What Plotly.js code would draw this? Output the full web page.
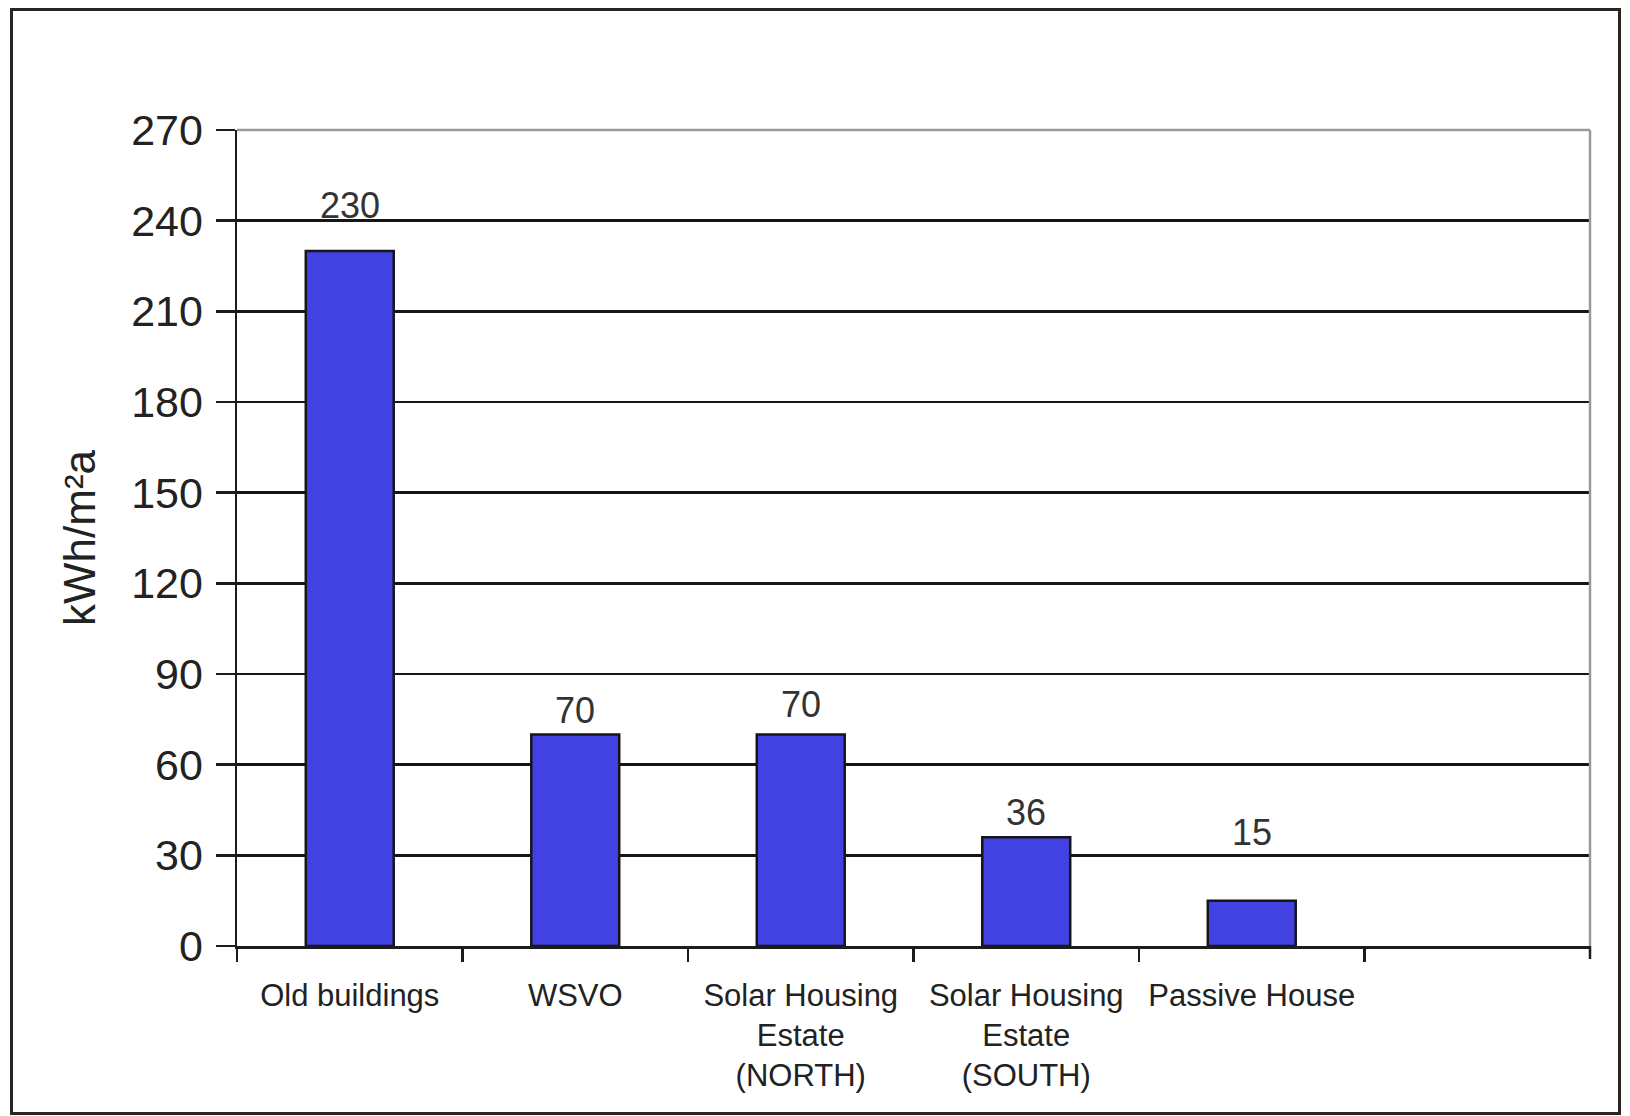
<!DOCTYPE html>
<html>
<head>
<meta charset="utf-8">
<script src="https://cdn.plot.ly/plotly-3.0.1.min.js"></script>
<style>
  html, body { margin: 0; padding: 0; background: #ffffff; }
  #wrap { position: relative; width: 1630px; height: 1116px; }
  #chart { position: absolute; left: 0; top: 0; width: 1630px; height: 1116px; }
  #frame { position: absolute; left: 10px; top: 8px; width: 1605px; height: 1101px;
           border: 3px solid #2a2520; pointer-events: none; }
</style>
</head>
<body>
<div id="wrap">
  <div id="chart"></div>
  <div id="frame"></div>
</div>
<script>
// ---- data ----
const categories = [
  "Old buildings",
  "WSVO",
  "Solar Housing<br>Estate<br>(NORTH)",
  "Solar Housing<br>Estate<br>(SOUTH)",
  "Passive House"
];
const values = [230, 70, 70, 36, 15];
const valueLabels = ["230", "70", "70", "36", "15"];
const yTickValues = [0, 30, 60, 90, 120, 150, 180, 210, 240, 270];
const yTitle = "kWh/m²a";

// ---- styling (not data) ----
const labelShift = [45, 24, 30, 25, 68];   // px above bar top for value labels
const FONT = "Liberation Sans, Arial, Helvetica, sans-serif";
const INK = "#222222";
const PLOT_H = 1116 - 130 - 170;

const trace = {
  type: "bar",
  x: categories,
  y: values,
  width: 0.39,
  marker: { color: "#4242E2", line: { color: "#15151a", width: 2.5 } },
  hoverinfo: "x+y"
};

const annotations = categories.map((c, i) => ({
  x: c, y: values[i], xref: "x", yref: "y",
  text: valueLabels[i], showarrow: false,
  yanchor: "middle", yshift: labelShift[i],
  font: { family: FONT, size: 36, color: "#333333" }
}));

const layout = {
  width: 1630, height: 1116,
  margin: { l: 237, r: 40, t: 130, b: 170 },
  paper_bgcolor: "#ffffff", plot_bgcolor: "#ffffff",
  showlegend: false,
  bargap: 0.61,
  font: { family: FONT, color: INK },
  xaxis: {
    type: "category",
    range: [-0.5, 5.5],
    showline: true, linecolor: "#1c1c1c", linewidth: 2.5,
    ticks: "outside", ticklen: 13, tickwidth: 2.5, tickcolor: "#1c1c1c",
    tickson: "boundaries",
    showgrid: false, zeroline: false,
    tickfont: { family: FONT, size: 31, color: INK },
    ticklabelstandoff: 20
  },
  yaxis: {
    range: [0, 270],
    tickvals: yTickValues,
    showline: true, linecolor: "#1c1c1c", linewidth: 2.5,
    ticks: "outside", ticklen: 19, tickwidth: 2.5, tickcolor: "#1c1c1c",
    showgrid: true, gridcolor: "#161616", gridwidth: 2.7,
    zeroline: false,
    tickfont: { family: FONT, size: 43, color: INK },
    ticklabelstandoff: 4,
    title: { text: yTitle, font: { family: FONT, size: 44, color: INK }, standoff: 22 }
  },
  shapes: [
    { type: "line", xref: "paper", yref: "paper", x0: 0, x1: 1, y0: 1, y1: 1,
      line: { color: "#9a9a9a", width: 2.5 }, layer: "above" },
    { type: "line", xref: "paper", yref: "paper", x0: 1, x1: 1, y0: 0, y1: 1,
      line: { color: "#9a9a9a", width: 2.5 }, layer: "above" },
    { type: "line", xref: "paper", yref: "paper", x0: 1, x1: 1, y0: 0, y1: -13 / PLOT_H,
      line: { color: "#1c1c1c", width: 2.5 }, layer: "above" }
  ],
  annotations: annotations
};

Plotly.newPlot("chart", [trace], layout, { displayModeBar: false, staticPlot: true });
</script>
</body>
</html>
